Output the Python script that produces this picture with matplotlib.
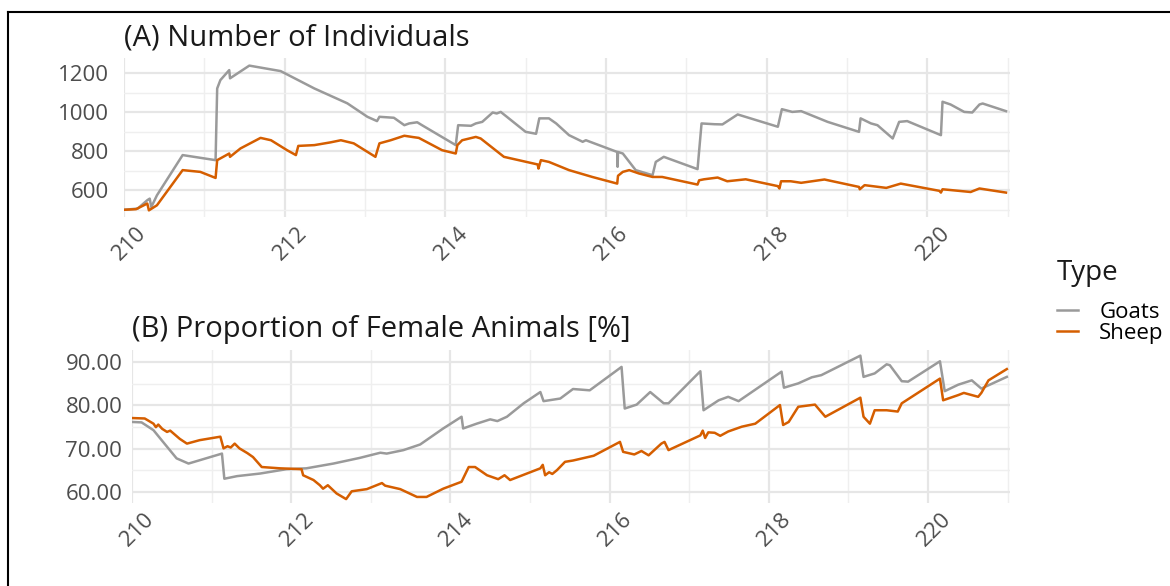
import matplotlib
matplotlib.use("Agg")
import matplotlib.pyplot as plt
from matplotlib.lines import Line2D
from matplotlib.ticker import MultipleLocator, FormatStrFormatter
from matplotlib.transforms import ScaledTranslation

plt.rcParams['font.family'] = ['Open Sans', 'DejaVu Sans']

GOAT_COLOR = '#9a9a9a'
SHEEP_COLOR = '#d55e00'

# (A) number of individuals
goats_n_t = [210.00, 210.17, 210.29, 210.32, 210.34, 210.41, 210.73, 211.14, 211.16, 211.20,
             211.31, 211.32, 211.56, 211.95, 212.37, 212.78, 213.03, 213.15, 213.18, 213.36,
             213.49, 213.55, 213.65, 213.71, 214.13, 214.16, 214.32, 214.38, 214.46, 214.59,
             214.64, 214.69, 215.00, 215.13, 215.17, 215.29, 215.38, 215.54, 215.71, 215.75,
             216.14, 216.145, 216.15, 216.21, 216.37, 216.58, 216.62, 216.72, 217.14, 217.19,
             217.35, 217.45, 217.64, 218.14, 218.19, 218.32, 218.43, 218.76, 219.15, 219.17,
             219.30, 219.38, 219.57, 219.65, 219.75, 220.17, 220.19, 220.29, 220.46, 220.56,
             220.65, 220.69, 220.98]
goats_n = [500, 506, 549, 557, 514, 574, 780, 754, 1121, 1164,
           1215, 1173, 1238, 1210, 1121, 1045, 976, 954, 976, 971,
           933, 942, 948, 933, 831, 933, 930, 942, 950, 998,
           993, 1001, 899, 889, 968, 968, 942, 882, 848, 856,
           796, 720, 796, 788, 703, 677, 745, 771, 708, 942,
           938, 937, 988, 925, 1015, 1001, 1005, 950, 899, 968,
           942, 933, 865, 950, 954, 882, 1053, 1039, 1001, 998,
           1039, 1044, 1005]

sheep_n_t = [210.00, 210.15, 210.29, 210.31, 210.41, 210.73, 210.95, 211.14, 211.16, 211.31,
             211.32, 211.45, 211.70, 211.83, 212.03, 212.14, 212.17, 212.37, 212.57, 212.70,
             212.86, 213.13, 213.18, 213.32, 213.49, 213.60, 213.67, 213.96, 214.13, 214.15,
             214.21, 214.38, 214.44, 214.73, 215.15, 215.16, 215.19, 215.29, 215.54, 215.83,
             216.14, 216.15, 216.21, 216.29, 216.41, 216.58, 216.70, 217.14, 217.16, 217.22,
             217.39, 217.51, 217.74, 218.14, 218.16, 218.18, 218.30, 218.43, 218.72, 219.15,
             219.16, 219.22, 219.49, 219.67, 220.15, 220.17, 220.19, 220.54, 220.65, 220.79,
             220.98]
sheep_n = [500, 503, 532, 497, 523, 703, 694, 663, 754, 788,
           771, 814, 868, 856, 805, 780, 827, 831, 845, 856,
           840, 771, 840, 856, 879, 872, 868, 805, 788, 831,
           856, 873, 865, 771, 732, 711, 754, 745, 703, 668,
           634, 674, 694, 703, 686, 668, 668, 629, 651, 656,
           665, 646, 656, 621, 609, 646, 646, 638, 655, 617,
           605, 626, 612, 634, 597, 588, 605, 591, 609, 600,
           588]

# (B) proportion of female animals [%]
goats_f_t = [210.00, 210.12, 210.27, 210.39, 210.56, 210.71, 211.13, 211.16, 211.32, 211.61,
             211.94, 212.19, 212.53, 212.86, 213.12, 213.20, 213.41, 213.62, 213.91, 214.14,
             214.16, 214.33, 214.50, 214.59, 214.71, 214.92, 215.13, 215.17, 215.38, 215.54,
             215.75, 216.15, 216.19, 216.34, 216.51, 216.68, 216.74, 217.14, 217.18, 217.37,
             217.49, 217.62, 218.16, 218.19, 218.37, 218.54, 218.66, 219.15, 219.19, 219.33,
             219.48, 219.52, 219.67, 219.75, 220.15, 220.21, 220.38, 220.55, 220.67, 220.99]
goats_f = [76.2, 76.1, 74.3, 71.6, 67.8, 66.6, 68.9, 63.1, 63.7, 64.3,
           65.3, 65.5, 66.6, 67.9, 69.1, 68.9, 69.7, 71.0, 74.7, 77.4,
           74.7, 75.8, 76.8, 76.4, 77.4, 80.5, 83.1, 81.0, 81.6, 83.8,
           83.5, 88.9, 79.3, 80.2, 83.1, 80.5, 80.5, 87.9, 78.9, 81.2,
           82.0, 81.0, 87.8, 84.1, 85.1, 86.5, 87.0, 91.5, 86.6, 87.4,
           89.5, 89.3, 85.6, 85.5, 90.2, 83.3, 84.8, 85.8, 83.9, 86.6]

sheep_f_t = [210.00, 210.16, 210.27, 210.30, 210.33, 210.38, 210.44, 210.48, 210.60, 210.69,
             210.85, 211.11, 211.15, 211.20, 211.24, 211.29, 211.35, 211.45, 211.52, 211.63,
             211.86, 212.13, 212.15, 212.28, 212.36, 212.40, 212.46, 212.57, 212.69, 212.76,
             212.95, 213.14, 213.18, 213.37, 213.58, 213.70, 213.91, 214.14, 214.23, 214.31,
             214.46, 214.60, 214.68, 214.75, 215.13, 215.16, 215.19, 215.24, 215.28, 215.34,
             215.44, 215.54, 215.80, 216.13, 216.17, 216.31, 216.40, 216.49, 216.65, 216.69,
             216.74, 217.14, 217.17, 217.20, 217.24, 217.32, 217.39, 217.49, 217.66, 217.83,
             218.14, 218.18, 218.25, 218.37, 218.58, 218.71, 219.15, 219.19, 219.27, 219.33,
             219.48, 219.62, 219.67, 220.15, 220.19, 220.38, 220.45, 220.55, 220.63, 220.67,
             220.76, 220.99]
sheep_f = [77.1, 77.0, 75.8, 75.0, 75.6, 74.6, 73.9, 74.2, 72.3, 71.2,
           72.0, 72.8, 70.1, 70.6, 70.3, 71.2, 70.1, 69.0, 68.1, 65.8,
           65.5, 65.3, 63.9, 62.8, 61.6, 60.8, 61.6, 59.7, 58.4, 60.2,
           60.7, 62.1, 61.5, 60.7, 58.9, 58.9, 60.8, 62.4, 65.8, 65.8,
           63.9, 63.0, 63.9, 62.8, 65.5, 66.3, 63.9, 64.6, 64.2, 65.1,
           67.0, 67.3, 68.4, 71.6, 69.3, 68.7, 69.5, 68.5, 71.2, 71.6,
           69.7, 73.1, 74.2, 72.5, 73.8, 73.7, 73.0, 74.0, 75.1, 75.8,
           80.1, 75.5, 76.2, 79.7, 80.2, 77.4, 81.8, 77.4, 75.8, 78.9,
           78.9, 78.6, 80.5, 86.2, 81.2, 82.4, 82.9, 82.4, 82.0, 82.9,
           85.8, 88.4]

W, H = 1170, 586
LW = 1.8
fig = plt.figure(figsize=(W / 100, H / 100), dpi=100)


def px_axes(left, top, right, bottom):
    return fig.add_axes([left / W, 1 - bottom / H, (right - left) / W, (bottom - top) / H])


def style(ax, ypad):
    ax.set_facecolor('white')
    for s in ax.spines.values():
        s.set_visible(False)
    ax.xaxis.set_major_locator(MultipleLocator(2))
    ax.xaxis.set_minor_locator(MultipleLocator(1))
    ax.grid(True, which='major', color='#e6e6e6', lw=1.6, zorder=0)
    ax.grid(True, which='minor', color='#efefef', lw=1.0, zorder=0)
    ax.tick_params(which='both', length=0)
    ax.tick_params(axis='y', labelsize=16, labelcolor='#4d4d4d', pad=ypad)
    ax.tick_params(axis='x', labelsize=16, labelcolor='#4d4d4d', pad=4)
    # rotated labels sit a little right of their tick in the original
    shift = ScaledTranslation(0.06, 0, fig.dpi_scale_trans)
    for lab in ax.get_xticklabels():
        lab.set_rotation(45)
        lab.set_transform(lab.get_transform() + shift)
    ax.set_axisbelow(True)


axA = px_axes(124, 58, 1010, 217)
axA.plot(goats_n_t, goats_n, color=GOAT_COLOR, lw=LW)
axA.plot(sheep_n_t, sheep_n, color=SHEEP_COLOR, lw=LW)
axA.set_xlim(210, 221.03)
axA.set_ylim(463, 1277)
axA.yaxis.set_major_locator(MultipleLocator(200))
axA.yaxis.set_minor_locator(MultipleLocator(100))
style(axA, 11)
axA.set_title('(A) Number of Individuals', loc='left', fontsize=21, pad=9, color='#1a1a1a')

axB = px_axes(132, 350, 1010, 503)
axB.plot(goats_f_t, goats_f, color=GOAT_COLOR, lw=LW)
axB.plot(sheep_f_t, sheep_f, color=SHEEP_COLOR, lw=LW)
axB.set_xlim(210, 221.03)
axB.set_ylim(57.5, 92.8)
axB.yaxis.set_major_locator(MultipleLocator(10))
axB.yaxis.set_minor_locator(MultipleLocator(5))
axB.yaxis.set_major_formatter(FormatStrFormatter('%.2f'))
style(axB, 7)
axB.set_title('(B) Proportion of Female Animals [%]', loc='left', fontsize=21, pad=9, color='#1a1a1a')

# legend: title drawn separately to get the wider gap of the original
fig.text(1057 / W, 1 - 273 / H, 'Type', fontsize=20, color='#1a1a1a', ha='left', va='center')
handles = [Line2D([], [], color=GOAT_COLOR, lw=LW), Line2D([], [], color=SHEEP_COLOR, lw=LW)]
fig.legend(handles, ['Goats', 'Sheep'], loc='center left',
           bbox_to_anchor=(1057 / W, 1 - 323 / H), frameon=False, fontsize=16,
           handlelength=0.95, handletextpad=0.95, labelspacing=0.0,
           borderaxespad=0, borderpad=0)

# frame edge visible on the left and top of the original
fig.add_artist(Line2D([8 / W, 8 / W], [0, 1 - 12 / H], color='black', lw=1.5))
fig.add_artist(Line2D([8 / W, 1], [1 - 12 / H, 1 - 12 / H], color='black', lw=1.5))

fig.savefig('out.png', dpi=100, facecolor='white')
